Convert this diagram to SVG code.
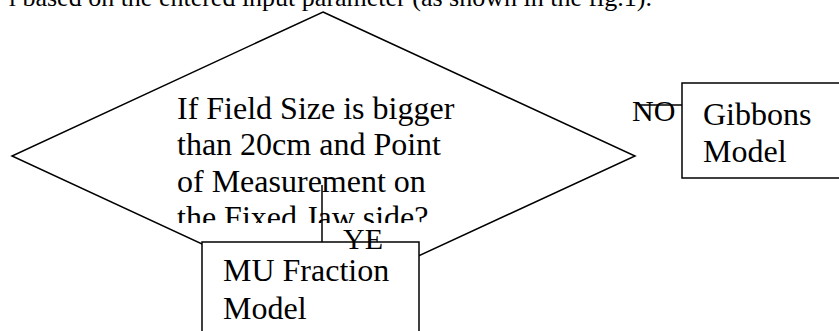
<svg xmlns="http://www.w3.org/2000/svg" width="839" height="331" viewBox="0 0 839 331">
  <style>
    .t { font-family: "Liberation Serif", "Times New Roman", serif; fill: #000; }
    .shape { fill: #fff; stroke: #000; stroke-width: 1.5; }
    .line { fill: none; stroke: #000; stroke-width: 1.5; }
  </style>
  <defs>
    <clipPath id="qclip"><rect x="160" y="85" width="320" height="138"/></clipPath>
  </defs>
  <rect width="839" height="331" fill="#fff"/>
  <text class="t" x="652" y="6" font-size="26" text-anchor="end">l based on the entered input parameter (as shown in the fig.1).</text>

  <g id="decision">
    <polygon class="shape" points="323,12 635,156 323,300 12,156"/>
    <g clip-path="url(#qclip)">
      <text class="t" font-size="32">
        <tspan x="177" y="119">If Field Size is bigger</tspan>
        <tspan x="177" y="155">than 20cm and Point</tspan>
        <tspan x="177" y="191.5">of Measurement on</tspan>
        <tspan x="177" y="228">the Fixed Jaw side?</tspan>
      </text>
    </g>
  </g>

  <g id="connectors">
    <line class="line" x1="322" y1="185" x2="322" y2="242"/>
    <line class="line" x1="640" y1="105" x2="682" y2="105"/>
  </g>

  <g id="gibbons">
    <rect class="shape" x="682" y="83" width="200" height="95"/>
    <text class="t" font-size="32"><tspan x="703" y="125">Gibbons</tspan><tspan x="703" y="162">Model</tspan></text>
  </g>

  <g id="mufraction">
    <rect class="shape" x="202" y="242" width="217" height="120"/>
    <text class="t" font-size="32"><tspan x="223" y="281">MU Fraction</tspan><tspan x="223" y="319">Model</tspan></text>
  </g>

  <text class="t" x="632" y="121" font-size="30">NO</text>
  <text class="t" x="343" y="249" font-size="30">YE</text>
</svg>
